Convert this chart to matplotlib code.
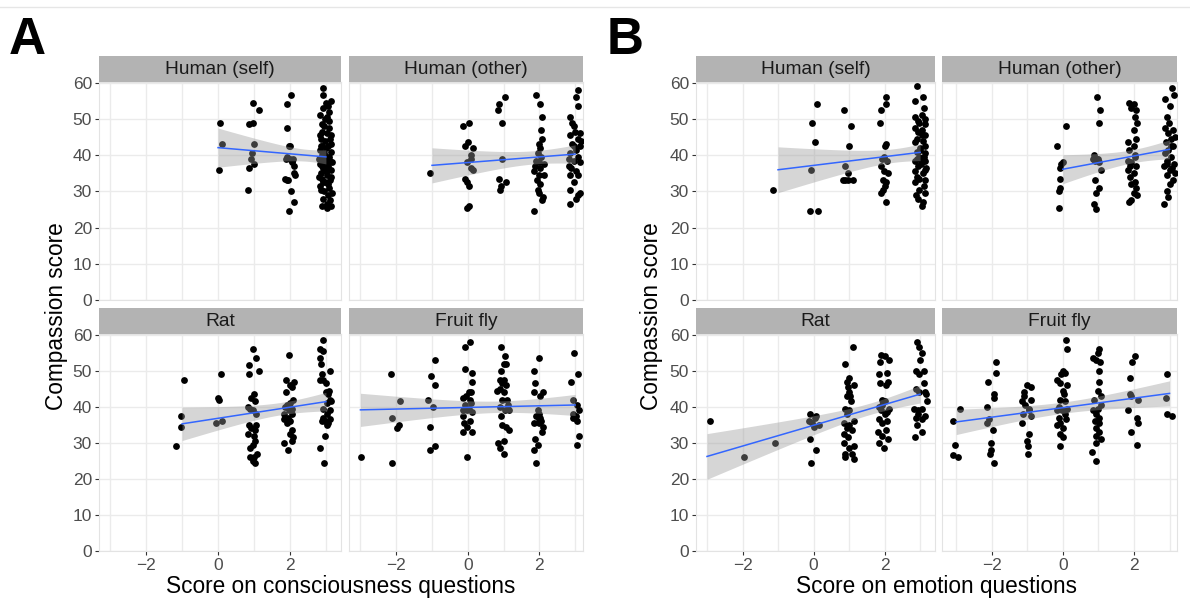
import numpy as np
import matplotlib.pyplot as plt

plt.rcParams['font.family'] = ['Liberation Sans', 'DejaVu Sans']

facet_names = ["Human (self)", "Human (other)", "Rat", "Fruit fly"]
panel_letters = ["A", "B"]
x_titles = ["Score on consciousness questions", "Score on emotion questions"]
y_title = "Compassion score"
x_ticks = [-2, 0, 2]
y_ticks = [0, 10, 20, 30, 40, 50, 60]

# (jittered score, compassion score)
# Panel A - consciousness questions
cons_self = [
    (0.05, 49), (0.1, 43), (0.03, 36),
    (0.98, 54.5), (1.13, 52.5), (0.96, 49), (0.86, 48.5), (1.0, 43), (0.95, 40.5),
    (0.93, 39), (1.0, 37.5), (0.86, 36.5), (0.84, 30.5),
    (2.03, 56.5), (1.92, 54), (1.93, 47.5), (1.97, 42.5), (2.01, 42.5), (1.93, 39.5),
    (2.0, 39), (2.09, 39), (2.07, 38), (2.12, 37), (2.12, 35), (2.14, 34.5), (1.86, 33.5),
    (1.91, 33), (1.95, 33), (2.04, 30), (2.12, 27), (1.98, 24.5), (1.88, 39), (2.05, 38.5),
    (2.93, 58.5), (2.93, 56.5), (3.14, 55), (3.07, 53.5), (2.91, 53), (3.09, 52), (3.02, 50.5),
    (2.98, 50), (3.08, 49.5), (2.88, 48.5), (3.09, 47.5), (2.9, 46.5), (3.02, 46), (2.85, 44.5),
    (3.12, 44.5), (2.98, 44), (2.9, 42.5), (3.07, 42.5), (2.84, 41.5), (3.14, 41), (2.95, 40.5),
    (3.02, 39.5), (2.88, 39), (3.12, 38.5), (2.98, 38), (2.84, 37.5), (3.07, 37), (2.93, 36.5),
    (3.14, 36), (2.86, 35), (3.02, 34.5), (2.9, 33.5), (3.12, 33), (2.98, 32.5), (2.84, 31.5),
    (3.09, 31), (2.95, 30), (3.05, 29), (2.91, 28), (3.12, 27.5), (3.02, 26.5), (2.88, 26),
    (3.15, 26), (3.04, 25.5), (2.87, 42.5), (3.15, 43), (3.01, 42), (2.9, 40), (3.09, 39.5),
    (2.82, 39), (3.0, 38.5), (3.16, 38), (2.88, 37), (2.99, 35.5), (2.82, 34), (3.15, 34),
    (2.93, 32.5), (3.06, 32), (2.86, 30.5), (3.16, 29.5), (2.83, 45.5), (3.15, 45.5),
    (2.95, 48), (2.84, 51), (3.0, 54.5),
]
cons_other = [
    (-1.05, 35),
    (0.02, 49), (-0.12, 48), (0.0, 43.5), (-0.07, 42.5), (0.14, 42), (0.09, 40), (0.08, 39),
    (-0.03, 38), (0.09, 36.5), (0.14, 36), (-0.07, 33.5), (-0.03, 32.5), (0.02, 31.5),
    (-0.03, 25.5), (0.02, 26),
    (1.03, 56), (0.88, 54), (0.85, 52.5), (0.97, 49), (0.97, 39), (0.88, 33.5), (1.06, 32.5),
    (0.92, 31.5), (0.89, 30.5),
    (1.91, 56.5), (2.02, 54), (2.07, 50.5), (2.05, 47), (2.07, 44.5), (1.98, 43), (2.02, 42),
    (1.95, 40.5), (2.05, 39.5), (1.91, 38.5), (2.0, 38), (2.12, 37.5), (1.84, 35.5), (1.98, 34.5),
    (2.13, 34.5), (1.93, 33), (2.02, 32), (1.96, 30.5), (2.0, 29.5), (2.1, 28.5), (2.07, 27.5),
    (1.86, 24.5), (1.88, 37), (2.02, 36.5),
    (3.07, 58), (3.02, 56), (3.07, 53.5), (2.87, 50.5), (2.91, 49), (2.96, 48), (3.0, 46.5),
    (3.15, 46), (2.86, 45.5), (3.07, 44.5), (3.16, 44), (2.92, 43), (3.03, 41.5), (2.87, 40.5),
    (3.07, 39.5), (2.84, 39), (2.98, 38.5), (3.15, 38), (2.89, 36.5), (3.03, 35.5), (2.86, 34.5),
    (3.09, 34.5), (2.96, 32.5), (2.87, 30.5), (3.14, 29.5), (3.07, 29), (3.02, 28), (2.86, 26.5),
    (2.96, 42.5), (3.14, 42.5), (2.84, 37),
]
cons_rat = [
    (-0.95, 47.5), (-1.04, 37.5), (-1.04, 34.5), (-1.16, 29),
    (0.09, 49), (0.0, 42.5), (0.02, 42), (-0.07, 35.5), (0.12, 36),
    (0.98, 56), (1.07, 53.5), (0.86, 51.5), (0.87, 49), (1.13, 50), (1.0, 43.5), (0.93, 42.5),
    (1.02, 41.5), (0.84, 40), (0.9, 39.5), (0.98, 39), (1.07, 38), (0.86, 35), (1.07, 35),
    (0.93, 34), (1.02, 33.5), (0.84, 32.5), (1.0, 32), (1.02, 30.5), (0.96, 29.5), (0.88, 28.5),
    (1.09, 27), (1.0, 26), (0.96, 25), (1.02, 24.5), (0.9, 26),
    (1.97, 54.5), (1.88, 47.5), (2.12, 47), (2.0, 46), (2.07, 45.5), (1.88, 44), (2.09, 42),
    (1.93, 40.5), (2.05, 39.5), (1.98, 39), (1.84, 38), (2.07, 38), (1.95, 37), (1.83, 36.5),
    (2.0, 36), (1.91, 35.5), (2.05, 33.5), (2.0, 32.5), (2.09, 31.5), (2.07, 30.5), (1.84, 30),
    (1.95, 28), (1.86, 40), (2.01, 41),
    (2.93, 58.5), (2.84, 56), (2.93, 55.5), (2.84, 53.5), (2.86, 52), (3.12, 50), (2.88, 49),
    (2.93, 47.5), (2.84, 47.5), (3.0, 46.5), (3.09, 44.5), (3.0, 44), (3.12, 42), (3.04, 41),
    (2.91, 39.5), (3.12, 39), (3.02, 38), (2.93, 37), (3.12, 36.5), (2.88, 36), (3.07, 35.5),
    (3.02, 35), (2.98, 32), (2.84, 28.5), (2.95, 24.5), (3.07, 43.5), (3.13, 41.5), (2.98, 36),
]
cons_fly = [
    (-2.99, 26),
    (-2.14, 49), (-1.89, 41.5), (-2.12, 37), (-1.92, 35), (-1.97, 34), (-2.12, 24.5),
    (-0.91, 53), (-1.03, 48.5), (-0.91, 46), (-1.12, 42), (-0.98, 40), (-1.07, 34.5),
    (-0.91, 29), (-1.07, 28),
    (0.05, 58), (-0.09, 56.5), (-0.07, 50.5), (0.11, 49.5), (0.13, 47), (0.02, 44), (0.08, 44),
    (-0.05, 43), (-0.12, 42.5), (0.05, 42), (-0.07, 40.5), (0.02, 39.5), (-0.14, 39), (-0.01, 39),
    (0.11, 38.5), (-0.12, 37.5), (0.07, 36), (-0.1, 35.5), (-0.03, 34.5), (-0.12, 33), (0.11, 33),
    (-0.01, 26), (0.09, 41),
    (0.93, 56.5), (1.04, 54), (1.0, 52), (1.06, 52), (0.92, 50), (1.0, 47.5), (0.9, 47.5),
    (1.06, 46), (0.97, 46.5), (0.83, 44.5), (1.0, 44), (0.95, 42), (1.09, 42), (0.9, 40),
    (1.04, 39), (1.14, 39), (0.93, 37.5), (0.95, 35), (1.06, 34.5), (1.14, 33.5), (1.0, 30.5),
    (0.85, 30), (0.9, 28.5), (1.0, 27), (1.11, 40.5), (0.9, 45),
    (2.0, 53.5), (1.86, 50), (1.89, 46.5), (1.86, 44), (2.09, 44), (2.02, 43), (1.96, 39),
    (2.0, 38), (1.91, 37.5), (1.98, 36.5), (2.05, 36), (1.86, 35.5), (1.98, 35.5), (2.09, 34.5),
    (2.07, 33), (1.89, 31), (1.96, 29.5), (1.86, 28), (1.91, 24.5), (2.02, 37),
    (2.98, 55), (3.08, 49), (2.88, 47), (2.93, 42), (3.05, 40.5), (3.1, 39), (2.94, 38),
    (3.02, 37.5), (2.93, 37), (3.06, 36), (3.11, 32), (3.06, 29.5),
]

# Panel B - emotion questions
emo_self = [
    (-1.13, 30.5),
    (0.11, 54), (-0.03, 49), (0.03, 43.5), (-0.07, 36), (-0.09, 24.5), (0.12, 24.5),
    (0.87, 52.5), (1.05, 48), (1.01, 42.5), (0.89, 37), (0.97, 35), (0.82, 33), (0.89, 33),
    (0.97, 33), (1.11, 33),
    (2.04, 56), (2.05, 54), (1.9, 52.5), (1.86, 49), (2.04, 43), (2.02, 42.5), (1.98, 39.5),
    (1.93, 39), (2.07, 38.5), (1.9, 37), (1.99, 35.5), (2.1, 35), (1.95, 33), (2.04, 32.5),
    (2.0, 31.5), (1.95, 30.5), (1.9, 29.5), (2.04, 27),
    (2.9, 59), (3.09, 56), (2.87, 55), (3.11, 53), (2.87, 50.5), (3.14, 50), (2.98, 49),
    (3.15, 48.5), (2.87, 47.5), (3.06, 47), (2.95, 46.5), (3.15, 45.5), (2.92, 44.5), (3.08, 44),
    (2.87, 43.5), (3.15, 42.5), (3.01, 42), (2.9, 41), (3.14, 40.5), (2.97, 39.5), (3.15, 38.5),
    (2.87, 38.5), (3.06, 38), (2.95, 37), (3.17, 36.5), (2.85, 35.5), (3.07, 35), (2.97, 33.5),
    (3.15, 33), (2.87, 32.5), (3.1, 31.5), (2.97, 30.5), (3.15, 29.5), (2.88, 29), (2.95, 28),
    (3.08, 27), (3.06, 26), (2.99, 41.5), (3.1, 39.5), (2.9, 39), (3.03, 37.5), (2.91, 34),
    (3.05, 45.5), (2.93, 49.5), (3.04, 51), (3.15, 36),
]
emo_other = [
    (0.08, 48), (-0.16, 42.5), (0.0, 38), (-0.07, 36.5), (-0.07, 33.5), (-0.09, 31), (-0.12, 30),
    (-0.12, 25.5), (-0.05, 37.5),
    (0.97, 56), (1.05, 52.5), (1.02, 49), (0.87, 40), (0.99, 39), (0.91, 38.5), (1.03, 38),
    (1.08, 36), (0.89, 33), (1.02, 31), (0.94, 29.5), (0.88, 26.5), (0.92, 25), (0.97, 39),
    (0.85, 39),
    (1.86, 54.5), (2.0, 54), (1.91, 53), (2.07, 52.5), (2.03, 50.5), (2.09, 49), (2.0, 47),
    (2.07, 44.5), (1.83, 43.5), (1.99, 42.5), (1.87, 41.5), (2.02, 40), (1.82, 38.5), (1.93, 38),
    (2.07, 37), (1.82, 36), (2.0, 35), (1.88, 34), (2.02, 32.5), (1.93, 32), (2.07, 31),
    (2.0, 29.5), (2.09, 29), (1.93, 27.5), (1.86, 27), (1.9, 37), (2.04, 39.5),
    (3.06, 58.5), (3.13, 56.5), (2.87, 55.5), (3.01, 53.5), (2.92, 50.5), (2.99, 49), (2.87, 47.5),
    (3.1, 47), (2.96, 46), (3.15, 45), (3.04, 44.5), (2.89, 43.5), (3.1, 42.5), (2.96, 41.5),
    (2.87, 40.5), (3.05, 39.5), (2.92, 38.5), (3.12, 37.5), (2.85, 37), (3.01, 36), (3.15, 35),
    (2.92, 34.5), (3.1, 33), (3.01, 32), (2.94, 30), (2.96, 28.5), (2.85, 26.5), (3.05, 42.5),
    (2.92, 37.5), (3.07, 36.5),
]
emo_rat = [
    (-2.92, 36), (-1.96, 26), (-1.08, 30),
    (-0.09, 38), (-0.14, 36), (0.0, 34.5), (0.16, 35), (0.05, 37), (0.08, 37.5), (-0.09, 31),
    (0.07, 28), (-0.08, 24.5), (-0.05, 35.5),
    (1.1, 56.5), (0.89, 52), (0.99, 48), (0.94, 47), (1.13, 46), (1.01, 44), (0.94, 43),
    (1.05, 41.5), (0.89, 39.5), (1.01, 39), (0.94, 38), (1.13, 36), (0.87, 35.5), (1.01, 35),
    (0.94, 34), (1.08, 33.5), (0.85, 32.5), (0.98, 31.5), (0.85, 30), (1.13, 29), (1.01, 28.5),
    (0.89, 27), (1.08, 27), (0.89, 26), (1.13, 25.5), (1.03, 43), (0.97, 45.5),
    (1.91, 54.5), (2.0, 54), (2.12, 53), (1.88, 52.5), (2.07, 49.5), (1.83, 49), (2.1, 47),
    (1.86, 46.5), (2.04, 46), (1.93, 42), (2.0, 41.5), (1.83, 40), (2.12, 39.5), (1.91, 39),
    (2.02, 38), (1.83, 36.5), (2.07, 36), (1.93, 35.5), (1.81, 33), (2.03, 33.5), (1.93, 32),
    (2.1, 31), (1.84, 30), (1.98, 28.5), (1.94, 40.5), (2.07, 38.5),
    (2.92, 58), (2.96, 56.5), (3.06, 55), (3.01, 53), (2.89, 50), (3.1, 50), (2.98, 49),
    (3.1, 46.5), (2.88, 45), (3.15, 44), (2.98, 44), (3.17, 43.5), (3.2, 41.5), (2.82, 39.5),
    (3.06, 39.5), (2.94, 39), (3.15, 37.5), (2.89, 37), (3.04, 36.5), (2.92, 35), (3.06, 33),
    (2.87, 31.5), (2.94, 38),
]
emo_fly = [
    (-3.08, 36), (-3.04, 29.5), (-3.1, 26.5), (-2.94, 26), (-2.89, 39.5),
    (-1.88, 52.5), (-1.88, 49.5), (-2.1, 47), (-1.93, 43.5), (-1.95, 42.5), (-2.14, 40),
    (-2.07, 36.5), (-2.13, 35.5), (-1.96, 33.5), (-2.01, 30), (-2.01, 28), (-2.05, 27),
    (-1.95, 24.5),
    (-1.01, 46), (-0.91, 45.5), (-1.08, 44), (-0.9, 42), (-1.16, 41.5), (-1.06, 40.5),
    (-0.95, 39.5), (-1.13, 38), (-0.91, 37.5), (-1.16, 35.5), (-0.95, 32.5), (-1.01, 30.5),
    (-0.99, 29), (-0.99, 27), (-1.1, 43), (-0.94, 39),
    (0.09, 58.5), (0.12, 56), (0.0, 50), (-0.05, 49), (0.05, 49.5), (-0.16, 47.5), (-0.09, 46.5),
    (0.12, 46), (0.0, 44.5), (-0.09, 42), (0.07, 41.5), (-0.16, 39), (0.12, 39.5), (-0.03, 39),
    (0.05, 38), (-0.12, 37), (0.09, 36.5), (-0.07, 35.5), (-0.16, 35), (0.0, 34), (-0.07, 32.5),
    (0.0, 31.5), (-0.07, 29), (0.03, 43.5), (-0.12, 40),
    (1.03, 56), (0.99, 55), (0.85, 53.5), (0.92, 53), (1.05, 52.5), (1.03, 50), (1.02, 47),
    (0.99, 44.5), (1.06, 43), (0.87, 42), (1.08, 40.5), (0.85, 39), (0.94, 38), (1.01, 37),
    (0.9, 36), (1.03, 35.5), (0.94, 34), (1.03, 33), (0.92, 32), (1.06, 31), (0.94, 30),
    (0.82, 27.5), (0.94, 25), (0.99, 39.5),
    (2.02, 54), (1.95, 52.5), (1.9, 48), (1.9, 43.5), (1.93, 43), (2.1, 42), (1.83, 39),
    (2.09, 37), (2.12, 35.5), (1.93, 33), (2.09, 29.5),
    (2.94, 49), (2.89, 42.5), (2.94, 38), (3.08, 37.5),
]

facet_data = [
    [cons_self, cons_other, cons_rat, cons_fly],
    [emo_self, emo_other, emo_rat, emo_fly],
]

W, H = 1190, 601
fig = plt.figure(figsize=(W / 100, H / 100), dpi=100)


def rect(x0, y0, x1, y1):
    # pixel box -> figure fraction
    return [x0 / W, 1 - y1 / H, (x1 - x0) / W, (y1 - y0) / H]


def smooth(pts):
    # lm fit with 95% band, on the unjittered score (like geom_smooth)
    x = np.round(pts[:, 0])
    y = pts[:, 1]
    n = len(x)
    b, a = np.polyfit(x, y, 1)
    resid = y - (a + b * x)
    s = np.sqrt(np.sum(resid ** 2) / (n - 2))
    sxx = np.sum((x - x.mean()) ** 2)
    xg = np.linspace(x.min(), x.max(), 80)
    fit = a + b * xg
    se = s * np.sqrt(1 / n + (xg - x.mean()) ** 2 / sxx)
    return xg, fit, fit - 1.98 * se, fit + 1.98 * se


# pixel boxes of the facet columns (left, right) per panel
col_box = [[(99, 341), (349, 583)], [(696, 935), (942, 1177)]]
col_xlim = [[(-3.31, 3.42), (-3.32, 3.22)], [(-3.31, 3.42), (-3.4, 3.21)]]
row_top = [82, 334]
row_bot = [300, 551]
strip_h = 26
title_x = [341, 936]
ylab_x = [56, 651]
letter_x = [27, 625]

for p in range(2):
    for k in range(4):
        r, c = divmod(k, 2)
        x0, x1 = col_box[p][c]
        ax = fig.add_axes(rect(x0, row_top[r], x1, row_bot[r]))
        pts = np.array(facet_data[p][k], dtype=float)

        ax.scatter(pts[:, 0], pts[:, 1], s=24, color="black", linewidths=0, zorder=3)
        xg, fit, lo, hi = smooth(pts)
        ax.fill_between(xg, lo, hi, color="#999999", alpha=0.4, linewidth=0, zorder=4)
        ax.plot(xg, fit, color="#3366FF", lw=1.1, zorder=5)

        ax.set_xlim(*col_xlim[p][c])
        ax.set_ylim(0, 60.2)
        ax.set_xticks(x_ticks)
        ax.set_xticks([-3, -1, 1, 3], minor=True)
        ax.set_yticks(y_ticks)
        ax.grid(True, which="both", color="#EBEBEB", lw=1.0, zorder=0)
        ax.set_axisbelow(True)
        for sp in ax.spines.values():
            sp.set_color("#E3E3E3")
            sp.set_linewidth(0.8)
        ax.tick_params(which="minor", length=0)
        ax.tick_params(which="major", colors="#333333", labelcolor="#4D4D4D",
                       labelsize=12.5, length=3, width=0.8, pad=2)
        if c == 1:
            ax.tick_params(axis="y", length=0, labelleft=False)
        if r == 0:
            ax.tick_params(axis="x", length=0, labelbottom=False)
        xt = ax.get_xticks()
        ax.set_xticklabels([f"{int(v)}".replace("-", "\u2212") for v in xt])

        sax = fig.add_axes(rect(x0, row_top[r] - strip_h, x1, row_top[r]))
        sax.set_facecolor("#B3B3B3")
        sax.set_xticks([])
        sax.set_yticks([])
        for sp in sax.spines.values():
            sp.set_visible(False)
        sax.text(0.5, 0.47, facet_names[k], ha="center", va="center",
                 fontsize=13.8, color="#1A1A1A", transform=sax.transAxes)

    fig.text(title_x[p] / W, 1 - 587 / H, x_titles[p], ha="center", va="center",
             fontsize=16.3, color="black")
    fig.text(ylab_x[p] / W, 1 - 316 / H, y_title, ha="center", va="center",
             rotation=90, fontsize=16.3, color="black")
    fig.text(letter_x[p] / W, 1 - 40 / H, panel_letters[p], ha="center", va="center",
             fontsize=37, fontweight="bold", color="black")

fig.add_artist(plt.Line2D([0, 1], [1 - 7 / H, 1 - 7 / H], color="#E6E6E6", lw=1))

fig.savefig("out.png", dpi=100)
